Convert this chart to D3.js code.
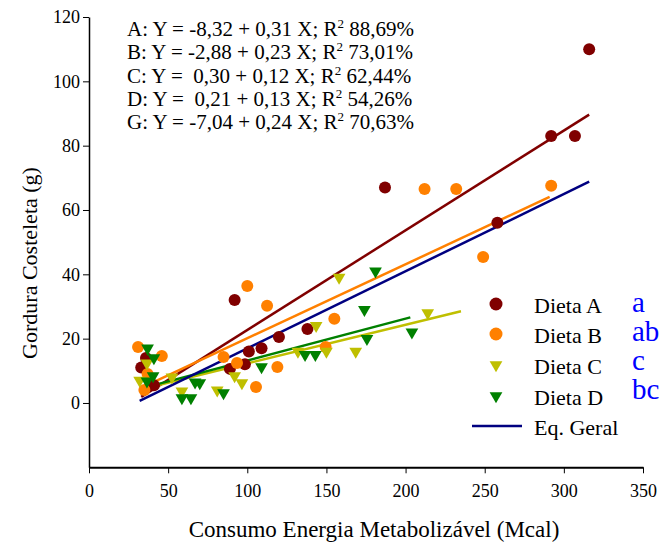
<!DOCTYPE html>
<html>
<head>
<meta charset="utf-8">
<script src="https://cdn.jsdelivr.net/npm/d3@7"></script>
<style>
    body { margin: 0; background: #fff; }
    text { font-family: "Liberation Serif", "Times New Roman", serif; }
</style>
</head>
<body>
<svg id="chart" width="661" height="546"></svg>
<script>
// pontos: [consumo EM (Mcal), gordura (g)]
const dietaA = [[33, 11], [36, 14], [41, 5.5], [89, 10.6], [92, 32], [98.5, 12], [101, 16], [109, 17],
    [120, 20.5], [138, 23], [187, 67], [258, 56], [292, 83], [307, 83], [316, 110]];
const dietaB = [[31, 17.4], [35, 4], [37, 9], [46, 14.6], [85, 14.3], [93.5, 12.4], [100, 36.4], [105.5, 5],
    [112.5, 30.2], [119, 11.2], [149.5, 17.4], [155, 26.2], [212, 66.5], [232, 66.5], [249, 45.4], [292, 67.5]];
const dietaC = [[32, 7], [36.6, 12.4], [52.4, 8], [58.7, 3.7], [81, 4], [92, 8.4], [96.6, 6.2], [132, 16],
    [143.5, 24], [150, 16], [158, 39], [168.5, 16], [214, 28]];
const dietaD = [[36.6, 6.8], [37, 17], [40.5, 8.4], [41, 14], [58.7, 1.6], [64.4, 1.6], [67, 6.5], [70, 6.2],
    [85, 3.1], [109, 11.2], [136.5, 15], [143, 15], [174, 29], [175.6, 20], [181, 41], [204, 22]];

// retas de regressao
const retaIds = ["A", "B", "C", "D", "G"];
const interceptos = [-8.32, -2.88, 0.30, 0.21, -7.04];
const inclinacoes = [0.31, 0.23, 0.12, 0.13, 0.24];
const r2 = ["88,69%", "73,01%", "62,44%", "54,26%", "70,63%"];
const xInicio = [33, 33, 33, 35, 32];
const xFim = [316, 291, 235, 203, 316];

const xTicks = [0, 50, 100, 150, 200, 250, 300, 350];
const yTicks = [0, 20, 40, 60, 80, 100, 120];

const legendaNomes = ["Dieta A", "Dieta B", "Dieta C", "Dieta D", "Eq. Geral"];
const letras = ["a", "ab", "c", "bc"];

const cores = {A: "#800000", B: "#ff8000", C: "#bfbf00", D: "#008000", G: "#000080"};

const svg = d3.select("#chart");

const x = d3.scaleLinear().domain([0, 350]).range([89, 643]);
const y = d3.scaleLinear().domain([-20, 120]).range([467.3, 17]);

// eixos
const gx = svg.append("g")
    .attr("transform", `translate(0,${y(-20)})`)
    .call(d3.axisBottom(x).tickValues(xTicks).tickSize(6).tickSizeOuter(0).tickPadding(11));
gx.select(".domain").attr("stroke-width", 2);

const gy = svg.append("g")
    .attr("transform", `translate(${x(0)},0)`)
    .call(d3.axisLeft(y).tickValues(yTicks).tickSize(6).tickSizeOuter(0).tickPadding(3));
gy.select(".domain").attr("stroke-width", 1.5);

svg.selectAll(".tick text")
    .attr("font-family", "Liberation Serif")
    .attr("font-size", 18)
    .attr("fill", "#000");

svg.append("text")
    .attr("x", 374)
    .attr("y", 537)
    .attr("text-anchor", "middle")
    .attr("font-size", 23)
    .text("Consumo Energia Metabolizável (Mcal)");

svg.append("text")
    .attr("transform", "translate(37,263) rotate(-90)")
    .attr("text-anchor", "middle")
    .attr("font-size", 22)
    .text("Gordura Costeleta (g)");

// retas
retaIds.forEach((id, i) => {
    const f = v => interceptos[i] + inclinacoes[i] * v;
    svg.append("line")
        .attr("x1", x(xInicio[i]))
        .attr("y1", y(f(xInicio[i])))
        .attr("x2", x(xFim[i]))
        .attr("y2", y(f(xFim[i])))
        .attr("stroke", cores[id])
        .attr("stroke-width", 2.5);
});

// pontos
const tri = d3.symbol().type(d3.symbolTriangle).size(70);

function circulos(dados, cor) {
    svg.append("g")
        .selectAll("circle")
        .data(dados)
        .join("circle")
        .attr("cx", d => x(d[0]))
        .attr("cy", d => y(d[1]))
        .attr("r", 6)
        .attr("fill", cor);
}

function triangulos(dados, cor) {
    svg.append("g")
        .selectAll("path")
        .data(dados)
        .join("path")
        .attr("d", tri)
        .attr("transform", d => `translate(${x(d[0])},${y(d[1])}) rotate(180)`)
        .attr("fill", cor);
}

circulos(dietaA, cores.A);
circulos(dietaB, cores.B);
triangulos(dietaC, cores.C);
triangulos(dietaD, cores.D);

// equacoes (espaco extra antes de valores positivos, como no original)
const fmt = v => (v < 0 ? "-" : "\u00a0") + Math.abs(v).toFixed(2).replace(".", ",");
const eq = svg.append("g").attr("font-size", 21);
retaIds.forEach((id, i) => {
    const t = eq.append("text")
        .attr("x", 127)
        .attr("y", 36 + i * 23.3);
    t.append("tspan").text(`${id}: Y = ${fmt(interceptos[i])} + ${Math.abs(inclinacoes[i]).toFixed(2).replace(".", ",")} X; R`);
    t.append("tspan").attr("font-size", 13).attr("dy", -8).text("2");
    t.append("tspan").attr("dy", 8).text(" " + r2[i]);
});

// legenda
const leg = svg.append("g");
const legY = [304, 334, 365, 396, 426];
const legCor = [cores.A, cores.B, cores.C, cores.D, cores.G];
legendaNomes.forEach((nome, i) => {
    if (i < 2) {
        leg.append("circle").attr("cx", 496).attr("cy", legY[i]).attr("r", 6.5).attr("fill", legCor[i]);
    } else if (i < 4) {
        leg.append("path").attr("d", tri).attr("transform", `translate(496,${legY[i]}) rotate(180)`).attr("fill", legCor[i]);
    } else {
        leg.append("line").attr("x1", 472).attr("x2", 522).attr("y1", legY[i]).attr("y2", legY[i])
            .attr("stroke", legCor[i]).attr("stroke-width", 2.5);
    }
    leg.append("text")
        .attr("x", 534)
        .attr("y", legY[i] + 9)
        .attr("font-size", 22)
        .text(nome);
});

letras.forEach((l, i) => {
    svg.append("text")
        .attr("x", 632)
        .attr("y", 312 + i * 29)
        .attr("font-family", "Liberation Sans, Arial, sans-serif")
        .attr("font-size", 29)
        .attr("fill", "#0000ff")
        .text(l);
});
</script>
</body>
</html>
